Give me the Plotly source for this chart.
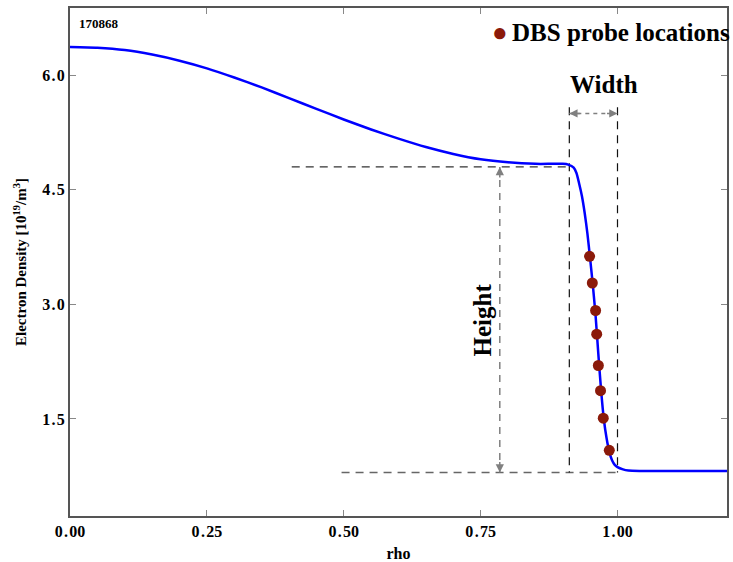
import plotly.graph_objects as go

# ---- data ----
rho = [0.00, 0.05, 0.10, 0.15, 0.20, 0.25, 0.30, 0.35, 0.40, 0.45, 0.50, 0.55,
       0.60, 0.65, 0.70, 0.75, 0.80, 0.85, 0.88, 0.90, 0.91, 0.92, 0.925, 0.93,
       0.935, 0.94, 0.945, 0.95, 0.955, 0.96, 0.965, 0.97, 0.975, 0.98, 0.985,
       0.99, 0.995, 1.00, 1.01, 1.02, 1.04, 1.08, 1.20]
density = [6.37, 6.36, 6.33, 6.27, 6.19, 6.09, 5.97, 5.84, 5.70, 5.56, 5.42, 5.29,
           5.17, 5.06, 4.97, 4.90, 4.86, 4.84, 4.84, 4.84, 4.83, 4.79, 4.72, 4.58,
           4.42, 4.20, 3.93, 3.60, 3.25, 2.85, 2.35, 1.88, 1.50, 1.25, 1.07,
           0.96, 0.90, 0.87, 0.84, 0.825, 0.82, 0.82, 0.82]

probe_rho = [0.949, 0.954, 0.960, 0.962, 0.965, 0.969, 0.974, 0.985]
probe_density = [3.63, 3.28, 2.92, 2.61, 2.20, 1.87, 1.51, 1.09]

x_ticks = [0.00, 0.25, 0.50, 0.75, 1.00]
x_tick_labels = ["0.00", "0.25", "0.50", "0.75", "1.00"]
y_ticks = [1.5, 3.0, 4.5, 6.0]
y_tick_labels = ["1.5", "3.0", "4.5", "6.0"]

# pedestal annotation geometry (data units)
ped_top = 4.80
ped_bottom = 0.80
ped_start = 0.912
ped_end = 1.00
top_line_start = 0.405
bottom_line_start = 0.496
vline_top = 5.58
width_arrow_y = 5.50
height_arrow_x = 0.785

SERIF = "Liberation Serif, Times New Roman, serif"
GRAY = "#808080"
PROBE_COLOR = "#8B1A0A"
HS = "\u200a"  # hair space to mimic the spaced-out tick digits


def spaced(t):
    return "<b>" + t.replace(".", HS + "." + HS) + "</b>"


fig = go.Figure()

# dashed guide lines
fig.add_trace(go.Scatter(x=[top_line_start, ped_start], y=[ped_top, ped_top], mode="lines",
                         line=dict(color="#333333", width=1.2, dash="8px,6px"),
                         showlegend=False, hoverinfo="skip"))
fig.add_trace(go.Scatter(x=[bottom_line_start, ped_end], y=[ped_bottom, ped_bottom], mode="lines",
                         line=dict(color="#666666", width=1.5, dash="8px,6px"),
                         showlegend=False, hoverinfo="skip"))
for xv in [ped_start, ped_end]:
    fig.add_trace(go.Scatter(x=[xv, xv], y=[vline_top, ped_bottom], mode="lines",
                             line=dict(color="#111111", width=1.2, dash="8px,6px"),
                             showlegend=False, hoverinfo="skip"))
# width arrow shaft (dotted)
fig.add_trace(go.Scatter(x=[ped_start, ped_end], y=[width_arrow_y, width_arrow_y], mode="lines",
                         line=dict(color=GRAY, width=1.5, dash="4px,4px"),
                         showlegend=False, hoverinfo="skip"))
# height arrow shaft (dashed)
fig.add_trace(go.Scatter(x=[height_arrow_x, height_arrow_x], y=[ped_top, ped_bottom], mode="lines",
                         line=dict(color=GRAY, width=1.5, dash="7px,6px"),
                         showlegend=False, hoverinfo="skip"))

# profile
fig.add_trace(go.Scatter(x=rho, y=density, mode="lines",
                         line=dict(color="#0000FF", width=2.5, shape="spline", smoothing=0.6),
                         showlegend=False, hoverinfo="skip"))
# probe locations
fig.add_trace(go.Scatter(x=probe_rho, y=probe_density, mode="markers",
                         marker=dict(color=PROBE_COLOR, size=11),
                         name="DBS probe locations", showlegend=False))

legend_y = (516 - 32) / 508
annotations = [
    dict(x=0.011, y=0.988, xref="paper", yref="paper", text="<b>170868</b>", showarrow=False,
         xanchor="left", yanchor="top", font=dict(family=SERIF, size=13, color="black")),
    dict(x=1.0 + 5 / 657, y=legend_y, xref="paper", yref="paper",
         text="<b>DBS probe locations</b>",
         showarrow=False, xanchor="right", yanchor="middle",
         font=dict(family=SERIF, size=25, color="black")),
    dict(x=(500 - 70) / 657, y=legend_y, xref="paper", yref="paper",
         text="●", showarrow=False, xanchor="center", yanchor="middle",
         font=dict(family=SERIF, size=26, color=PROBE_COLOR)),
    dict(x=(ped_start + ped_end) / 2, y=width_arrow_y, xref="x", yref="y", yshift=29, xshift=11,
         text="<b>Width</b>", showarrow=False, xanchor="center", yanchor="middle",
         font=dict(family=SERIF, size=25, color="black")),
    dict(x=height_arrow_x, y=(ped_top + ped_bottom) / 2, xref="x", yref="y", xshift=-17,
         text="<b>Height</b>", showarrow=False, textangle=-90, xanchor="center", yanchor="middle",
         font=dict(family=SERIF, size=25, color="black")),
]
# arrowheads
for (xv, yv, axv, ayv) in [
    (ped_start, width_arrow_y, 12, 0), (ped_end, width_arrow_y, -12, 0),
    (height_arrow_x, ped_top, 0, 12), (height_arrow_x, ped_bottom, 0, -12),
]:
    annotations.append(dict(x=xv, y=yv, xref="x", yref="y", ax=axv, ay=ayv, text="",
                            showarrow=True, arrowhead=2, arrowsize=1.1, arrowwidth=1.5,
                            arrowcolor=GRAY, standoff=0))

axis_common = dict(showline=True, linecolor="#555555", linewidth=2, mirror="ticks",
                   ticks="inside", ticklen=6, tickcolor="#888888", tickwidth=1,
                   showgrid=False, zeroline=False, automargin=False,
                   tickfont=dict(family=SERIF, size=16, color="black"))

fig.update_layout(
    width=733, height=562,
    margin=dict(l=70, r=6, t=8, b=46),
    plot_bgcolor="white", paper_bgcolor="white",
    xaxis=dict(range=[0, 1.2], tickvals=x_ticks,
               ticktext=[spaced(t) for t in x_tick_labels],
               title=dict(text="<b>rho</b>", font=dict(family=SERIF, size=16, color="black"), standoff=14),
               **axis_common),
    yaxis=dict(range=[0.23, 6.88], tickvals=y_ticks,
               ticktext=[spaced(t) for t in y_tick_labels],
               title=dict(text="<b>Electron Density [10<sup>19</sup>/m<sup>3</sup>]</b>",
                          font=dict(family=SERIF, size=15, color="black"), standoff=12),
               **axis_common),
    annotations=annotations,
    showlegend=False,
)

fig.write_html("out.html")
